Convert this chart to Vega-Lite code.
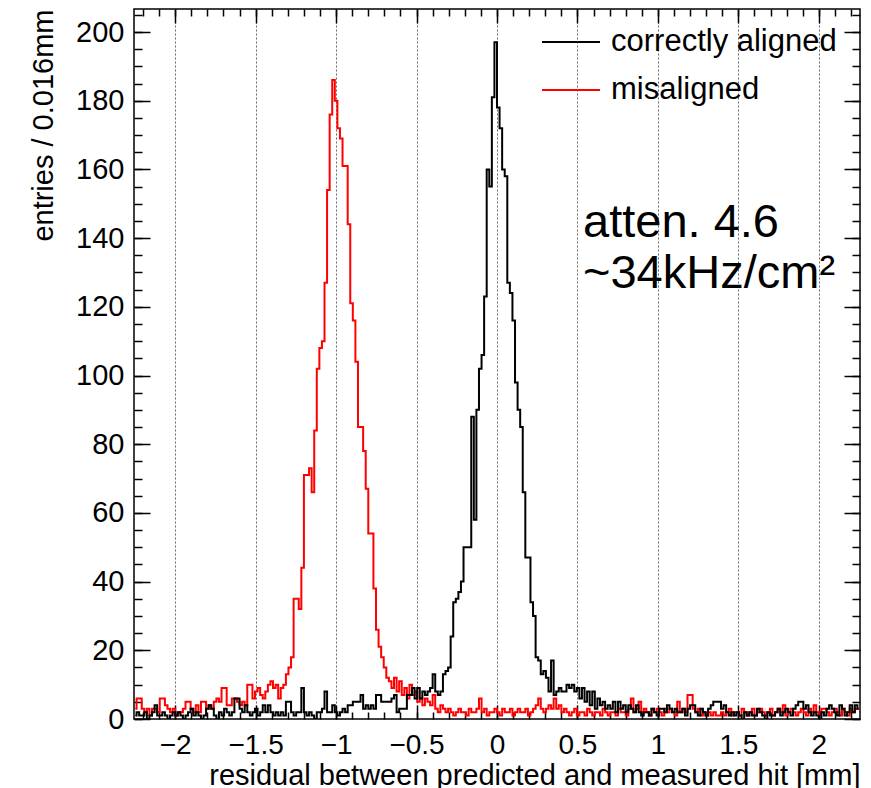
{
"$schema": "https://vega.github.io/schema/vega-lite/v6.json",
"width": 726,
"height": 710,
"autosize": {"type": "none"},
"padding": {"left": 134, "top": 9, "right": 11, "bottom": 69},
"background": "white",
"config": {
  "view": {"stroke": "black", "strokeWidth": 1.5},
  "font": "Liberation Sans",
  "axis": {"domain": false, "grid": false, "tickColor": "black", "tickWidth": 1.5, "labelColor": "black", "labelFont": "Liberation Sans", "titleFont": "Liberation Sans", "titleColor": "black", "titleFontWeight": "normal", "labelFlush": false, "labelOverlap": false}
},
"data": {"values": [
{"x":-2.248,"correctly aligned":1,"misaligned":3},{"x":-2.232,"correctly aligned":2,"misaligned":6},{"x":-2.216,"correctly aligned":1,"misaligned":6},{"x":-2.2,"correctly aligned":1,"misaligned":3},{"x":-2.184,"correctly aligned":2,"misaligned":2},{"x":-2.168,"correctly aligned":0,"misaligned":3},{"x":-2.152,"correctly aligned":1,"misaligned":1},{"x":-2.136,"correctly aligned":2,"misaligned":3},{"x":-2.12,"correctly aligned":4,"misaligned":3},{"x":-2.104,"correctly aligned":1,"misaligned":2},
{"x":-2.088,"correctly aligned":1,"misaligned":6},{"x":-2.072,"correctly aligned":2,"misaligned":6},{"x":-2.056,"correctly aligned":1,"misaligned":4},{"x":-2.04,"correctly aligned":0,"misaligned":3},{"x":-2.024,"correctly aligned":1,"misaligned":2},{"x":-2.008,"correctly aligned":2,"misaligned":3},{"x":-1.992,"correctly aligned":1,"misaligned":1},{"x":-1.976,"correctly aligned":2,"misaligned":2},{"x":-1.96,"correctly aligned":1,"misaligned":2},{"x":-1.944,"correctly aligned":0,"misaligned":3},
{"x":-1.928,"correctly aligned":1,"misaligned":5},{"x":-1.912,"correctly aligned":2,"misaligned":5},{"x":-1.896,"correctly aligned":3,"misaligned":3},{"x":-1.88,"correctly aligned":1,"misaligned":2},{"x":-1.864,"correctly aligned":2,"misaligned":4},{"x":-1.848,"correctly aligned":1,"misaligned":2},{"x":-1.832,"correctly aligned":0,"misaligned":5},{"x":-1.816,"correctly aligned":1,"misaligned":5},{"x":-1.8,"correctly aligned":3,"misaligned":3},{"x":-1.784,"correctly aligned":4,"misaligned":4},
{"x":-1.768,"correctly aligned":3,"misaligned":3},{"x":-1.752,"correctly aligned":1,"misaligned":5},{"x":-1.736,"correctly aligned":0,"misaligned":6},{"x":-1.72,"correctly aligned":2,"misaligned":5},{"x":-1.704,"correctly aligned":1,"misaligned":9},{"x":-1.688,"correctly aligned":3,"misaligned":9},{"x":-1.672,"correctly aligned":2,"misaligned":4},{"x":-1.656,"correctly aligned":1,"misaligned":4},{"x":-1.64,"correctly aligned":2,"misaligned":6},{"x":-1.624,"correctly aligned":6,"misaligned":6},
{"x":-1.608,"correctly aligned":6,"misaligned":5},{"x":-1.592,"correctly aligned":3,"misaligned":4},{"x":-1.576,"correctly aligned":2,"misaligned":5},{"x":-1.56,"correctly aligned":4,"misaligned":4},{"x":-1.544,"correctly aligned":2,"misaligned":10},{"x":-1.528,"correctly aligned":1,"misaligned":10},{"x":-1.512,"correctly aligned":2,"misaligned":6},{"x":-1.496,"correctly aligned":3,"misaligned":8},{"x":-1.48,"correctly aligned":1,"misaligned":9},{"x":-1.464,"correctly aligned":2,"misaligned":7},
{"x":-1.448,"correctly aligned":4,"misaligned":6},{"x":-1.432,"correctly aligned":2,"misaligned":8},{"x":-1.416,"correctly aligned":4,"misaligned":10},{"x":-1.4,"correctly aligned":2,"misaligned":11},{"x":-1.384,"correctly aligned":1,"misaligned":9},{"x":-1.368,"correctly aligned":2,"misaligned":10},{"x":-1.352,"correctly aligned":1,"misaligned":6},{"x":-1.336,"correctly aligned":2,"misaligned":9},{"x":-1.32,"correctly aligned":1,"misaligned":10},{"x":-1.304,"correctly aligned":5,"misaligned":13},
{"x":-1.288,"correctly aligned":5,"misaligned":15},{"x":-1.272,"correctly aligned":2,"misaligned":18},{"x":-1.256,"correctly aligned":1,"misaligned":35},{"x":-1.24,"correctly aligned":2,"misaligned":35},{"x":-1.224,"correctly aligned":2,"misaligned":32},{"x":-1.208,"correctly aligned":9,"misaligned":44},{"x":-1.192,"correctly aligned":2,"misaligned":71},{"x":-1.176,"correctly aligned":1,"misaligned":71},{"x":-1.16,"correctly aligned":2,"misaligned":73},{"x":-1.144,"correctly aligned":1,"misaligned":66},
{"x":-1.128,"correctly aligned":0,"misaligned":84},{"x":-1.112,"correctly aligned":2,"misaligned":102},{"x":-1.096,"correctly aligned":2,"misaligned":108},{"x":-1.08,"correctly aligned":3,"misaligned":110},{"x":-1.064,"correctly aligned":8,"misaligned":127},{"x":-1.048,"correctly aligned":2,"misaligned":154},{"x":-1.032,"correctly aligned":2,"misaligned":176},{"x":-1.016,"correctly aligned":4,"misaligned":186},{"x":-1,"correctly aligned":2,"misaligned":180},{"x":-0.984,"correctly aligned":1,"misaligned":172},
{"x":-0.968,"correctly aligned":2,"misaligned":169},{"x":-0.952,"correctly aligned":3,"misaligned":161},{"x":-0.936,"correctly aligned":2,"misaligned":161},{"x":-0.92,"correctly aligned":4,"misaligned":144},{"x":-0.904,"correctly aligned":4,"misaligned":121},{"x":-0.888,"correctly aligned":5,"misaligned":116},{"x":-0.872,"correctly aligned":5,"misaligned":104},{"x":-0.856,"correctly aligned":5,"misaligned":85},{"x":-0.84,"correctly aligned":7,"misaligned":85},{"x":-0.824,"correctly aligned":3,"misaligned":78},
{"x":-0.808,"correctly aligned":4,"misaligned":67},{"x":-0.792,"correctly aligned":3,"misaligned":54},{"x":-0.776,"correctly aligned":4,"misaligned":54},{"x":-0.76,"correctly aligned":3,"misaligned":38},{"x":-0.744,"correctly aligned":7,"misaligned":26},{"x":-0.728,"correctly aligned":7,"misaligned":21},{"x":-0.712,"correctly aligned":5,"misaligned":18},{"x":-0.696,"correctly aligned":5,"misaligned":15},{"x":-0.68,"correctly aligned":5,"misaligned":12},{"x":-0.664,"correctly aligned":5,"misaligned":11},
{"x":-0.648,"correctly aligned":6,"misaligned":9},{"x":-0.632,"correctly aligned":7,"misaligned":12},{"x":-0.616,"correctly aligned":2,"misaligned":8},{"x":-0.6,"correctly aligned":3,"misaligned":11},{"x":-0.584,"correctly aligned":3,"misaligned":7},{"x":-0.568,"correctly aligned":3,"misaligned":9},{"x":-0.552,"correctly aligned":7,"misaligned":6},{"x":-0.536,"correctly aligned":7,"misaligned":10},{"x":-0.52,"correctly aligned":9,"misaligned":7},{"x":-0.504,"correctly aligned":6,"misaligned":8},
{"x":-0.488,"correctly aligned":9,"misaligned":5},{"x":-0.472,"correctly aligned":6,"misaligned":6},{"x":-0.456,"correctly aligned":8,"misaligned":4},{"x":-0.44,"correctly aligned":7,"misaligned":6},{"x":-0.424,"correctly aligned":8,"misaligned":5},{"x":-0.408,"correctly aligned":9,"misaligned":4},{"x":-0.392,"correctly aligned":13,"misaligned":7},{"x":-0.376,"correctly aligned":8,"misaligned":3},{"x":-0.36,"correctly aligned":7,"misaligned":2},{"x":-0.344,"correctly aligned":8,"misaligned":4},
{"x":-0.328,"correctly aligned":13,"misaligned":3},{"x":-0.312,"correctly aligned":14,"misaligned":2},{"x":-0.296,"correctly aligned":15,"misaligned":3},{"x":-0.28,"correctly aligned":24,"misaligned":2},{"x":-0.264,"correctly aligned":34,"misaligned":1},{"x":-0.248,"correctly aligned":35,"misaligned":2},{"x":-0.232,"correctly aligned":37,"misaligned":3},{"x":-0.216,"correctly aligned":40,"misaligned":2},{"x":-0.2,"correctly aligned":50,"misaligned":2},{"x":-0.184,"correctly aligned":50,"misaligned":1},
{"x":-0.168,"correctly aligned":50,"misaligned":3},{"x":-0.152,"correctly aligned":88,"misaligned":2},{"x":-0.136,"correctly aligned":58,"misaligned":2},{"x":-0.12,"correctly aligned":90,"misaligned":3},{"x":-0.104,"correctly aligned":102,"misaligned":6},{"x":-0.088,"correctly aligned":106,"misaligned":2},{"x":-0.072,"correctly aligned":123,"misaligned":3},{"x":-0.056,"correctly aligned":160,"misaligned":1},{"x":-0.04,"correctly aligned":155,"misaligned":2},{"x":-0.024,"correctly aligned":181,"misaligned":2},
{"x":-0.008,"correctly aligned":197,"misaligned":3},{"x":0.008,"correctly aligned":178,"misaligned":2},{"x":0.024,"correctly aligned":172,"misaligned":1},{"x":0.04,"correctly aligned":160,"misaligned":3},{"x":0.056,"correctly aligned":158,"misaligned":2},{"x":0.072,"correctly aligned":127,"misaligned":2},{"x":0.088,"correctly aligned":124,"misaligned":3},{"x":0.104,"correctly aligned":116,"misaligned":1},{"x":0.12,"correctly aligned":98,"misaligned":2},{"x":0.136,"correctly aligned":90,"misaligned":3},
{"x":0.152,"correctly aligned":85,"misaligned":2},{"x":0.168,"correctly aligned":66,"misaligned":2},{"x":0.184,"correctly aligned":47,"misaligned":3},{"x":0.2,"correctly aligned":47,"misaligned":1},{"x":0.216,"correctly aligned":34,"misaligned":2},{"x":0.232,"correctly aligned":30,"misaligned":3},{"x":0.248,"correctly aligned":18,"misaligned":4},{"x":0.264,"correctly aligned":17,"misaligned":6},{"x":0.28,"correctly aligned":13,"misaligned":3},{"x":0.296,"correctly aligned":14,"misaligned":2},
{"x":0.312,"correctly aligned":12,"misaligned":3},{"x":0.328,"correctly aligned":8,"misaligned":4},{"x":0.344,"correctly aligned":17,"misaligned":3},{"x":0.36,"correctly aligned":7,"misaligned":6},{"x":0.376,"correctly aligned":8,"misaligned":3},{"x":0.392,"correctly aligned":9,"misaligned":4},{"x":0.408,"correctly aligned":8,"misaligned":2},{"x":0.424,"correctly aligned":8,"misaligned":3},{"x":0.44,"correctly aligned":10,"misaligned":2},{"x":0.456,"correctly aligned":9,"misaligned":1},
{"x":0.472,"correctly aligned":10,"misaligned":2},{"x":0.488,"correctly aligned":8,"misaligned":3},{"x":0.504,"correctly aligned":9,"misaligned":1},{"x":0.52,"correctly aligned":6,"misaligned":2},{"x":0.536,"correctly aligned":9,"misaligned":2},{"x":0.552,"correctly aligned":5,"misaligned":1},{"x":0.568,"correctly aligned":8,"misaligned":3},{"x":0.584,"correctly aligned":4,"misaligned":2},{"x":0.6,"correctly aligned":8,"misaligned":1},{"x":0.616,"correctly aligned":3,"misaligned":2},
{"x":0.632,"correctly aligned":6,"misaligned":2},{"x":0.648,"correctly aligned":4,"misaligned":1},{"x":0.664,"correctly aligned":5,"misaligned":3},{"x":0.68,"correctly aligned":3,"misaligned":2},{"x":0.696,"correctly aligned":4,"misaligned":1},{"x":0.712,"correctly aligned":3,"misaligned":2},{"x":0.728,"correctly aligned":5,"misaligned":2},{"x":0.744,"correctly aligned":2,"misaligned":1},{"x":0.76,"correctly aligned":5,"misaligned":3},{"x":0.776,"correctly aligned":3,"misaligned":2},
{"x":0.792,"correctly aligned":4,"misaligned":2},{"x":0.808,"correctly aligned":2,"misaligned":1},{"x":0.824,"correctly aligned":4,"misaligned":3},{"x":0.84,"correctly aligned":3,"misaligned":6},{"x":0.856,"correctly aligned":2,"misaligned":2},{"x":0.872,"correctly aligned":4,"misaligned":3},{"x":0.888,"correctly aligned":2,"misaligned":5},{"x":0.904,"correctly aligned":1,"misaligned":2},{"x":0.92,"correctly aligned":2,"misaligned":3},{"x":0.936,"correctly aligned":2,"misaligned":2},
{"x":0.952,"correctly aligned":1,"misaligned":1},{"x":0.968,"correctly aligned":3,"misaligned":3},{"x":0.984,"correctly aligned":2,"misaligned":2},{"x":1,"correctly aligned":1,"misaligned":3},{"x":1.016,"correctly aligned":3,"misaligned":2},{"x":1.032,"correctly aligned":3,"misaligned":1},{"x":1.048,"correctly aligned":2,"misaligned":3},{"x":1.064,"correctly aligned":4,"misaligned":2},{"x":1.08,"correctly aligned":3,"misaligned":3},{"x":1.096,"correctly aligned":2,"misaligned":2},
{"x":1.112,"correctly aligned":3,"misaligned":1},{"x":1.128,"correctly aligned":2,"misaligned":5},{"x":1.144,"correctly aligned":2,"misaligned":2},{"x":1.16,"correctly aligned":3,"misaligned":3},{"x":1.176,"correctly aligned":1,"misaligned":2},{"x":1.192,"correctly aligned":3,"misaligned":7},{"x":1.208,"correctly aligned":4,"misaligned":7},{"x":1.224,"correctly aligned":4,"misaligned":3},{"x":1.24,"correctly aligned":2,"misaligned":2},{"x":1.256,"correctly aligned":1,"misaligned":3},
{"x":1.272,"correctly aligned":3,"misaligned":1},{"x":1.288,"correctly aligned":2,"misaligned":2},{"x":1.304,"correctly aligned":1,"misaligned":1},{"x":1.32,"correctly aligned":3,"misaligned":2},{"x":1.336,"correctly aligned":4,"misaligned":1},{"x":1.352,"correctly aligned":5,"misaligned":2},{"x":1.368,"correctly aligned":5,"misaligned":1},{"x":1.384,"correctly aligned":5,"misaligned":1},{"x":1.4,"correctly aligned":3,"misaligned":2},{"x":1.416,"correctly aligned":4,"misaligned":1},
{"x":1.432,"correctly aligned":2,"misaligned":2},{"x":1.448,"correctly aligned":1,"misaligned":3},{"x":1.464,"correctly aligned":2,"misaligned":1},{"x":1.48,"correctly aligned":1,"misaligned":2},{"x":1.496,"correctly aligned":2,"misaligned":2},{"x":1.512,"correctly aligned":1,"misaligned":1},{"x":1.528,"correctly aligned":0,"misaligned":3},{"x":1.544,"correctly aligned":2,"misaligned":2},{"x":1.56,"correctly aligned":1,"misaligned":1},{"x":1.576,"correctly aligned":2,"misaligned":2},
{"x":1.592,"correctly aligned":1,"misaligned":3},{"x":1.608,"correctly aligned":1,"misaligned":1},{"x":1.624,"correctly aligned":3,"misaligned":2},{"x":1.64,"correctly aligned":2,"misaligned":3},{"x":1.656,"correctly aligned":1,"misaligned":2},{"x":1.672,"correctly aligned":0,"misaligned":1},{"x":1.688,"correctly aligned":2,"misaligned":2},{"x":1.704,"correctly aligned":1,"misaligned":3},{"x":1.72,"correctly aligned":1,"misaligned":1},{"x":1.736,"correctly aligned":2,"misaligned":2},
{"x":1.752,"correctly aligned":3,"misaligned":3},{"x":1.768,"correctly aligned":1,"misaligned":2},{"x":1.784,"correctly aligned":2,"misaligned":4},{"x":1.8,"correctly aligned":3,"misaligned":1},{"x":1.816,"correctly aligned":2,"misaligned":2},{"x":1.832,"correctly aligned":1,"misaligned":3},{"x":1.848,"correctly aligned":3,"misaligned":2},{"x":1.864,"correctly aligned":4,"misaligned":1},{"x":1.88,"correctly aligned":5,"misaligned":2},{"x":1.896,"correctly aligned":5,"misaligned":3},
{"x":1.912,"correctly aligned":3,"misaligned":2},{"x":1.928,"correctly aligned":4,"misaligned":1},{"x":1.944,"correctly aligned":2,"misaligned":3},{"x":1.96,"correctly aligned":1,"misaligned":2},{"x":1.976,"correctly aligned":2,"misaligned":4},{"x":1.992,"correctly aligned":1,"misaligned":2},{"x":2.008,"correctly aligned":0,"misaligned":1},{"x":2.024,"correctly aligned":2,"misaligned":3},{"x":2.04,"correctly aligned":1,"misaligned":3},{"x":2.056,"correctly aligned":3,"misaligned":2},
{"x":2.072,"correctly aligned":4,"misaligned":1},{"x":2.088,"correctly aligned":3,"misaligned":2},{"x":2.104,"correctly aligned":2,"misaligned":3},{"x":2.12,"correctly aligned":1,"misaligned":2},{"x":2.136,"correctly aligned":4,"misaligned":1},{"x":2.152,"correctly aligned":3,"misaligned":3},{"x":2.168,"correctly aligned":1,"misaligned":2},{"x":2.184,"correctly aligned":2,"misaligned":1},{"x":2.2,"correctly aligned":4,"misaligned":3},{"x":2.216,"correctly aligned":2,"misaligned":2},
{"x":2.232,"correctly aligned":4,"misaligned":3},{"x":2.248,"correctly aligned":3,"misaligned":3}
]},
"transform": [{"fold": ["correctly aligned", "misaligned"], "as": ["series", "count"]}],
"layer": [
  {
    "transform": [{"filter": "datum.series == 'misaligned'"}],
    "mark": {"type": "line", "interpolate": "step", "strokeWidth": 2, "clip": true},
    "encoding": {
      "x": {"field": "x", "type": "quantitative",
        "scale": {"domain": [-2.256, 2.256], "nice": false, "zero": false},
        "axis": {"orient": "bottom", "values": [-2, -1.5, -1, -0.5, 0, 0.5, 1, 1.5, 2], "format": "~g", "tickSize": -14, "labelPadding": 26, "labelFontSize": 28,
          "grid": true, "gridColor": "#666666", "gridDash": [2, 2], "gridWidth": 1,
          "title": "residual between predicted and measured hit [mm]", "titleFontSize": 29, "titleAnchor": "end", "titleAlign": "right", "titleX": 726, "titleY": 65, "titleBaseline": "alphabetic"}},
      "y": {"field": "count", "type": "quantitative",
        "scale": {"domain": [0, 206.7], "nice": false, "zero": false},
        "axis": {"orient": "left", "values": [0, 20, 40, 60, 80, 100, 120, 140, 160, 180, 200], "tickSize": -16, "labelPadding": 26, "labelFontSize": 29,
          "title": "entries / 0.016mm", "titleFontSize": 29, "titleAngle": -90, "titleAnchor": "end", "titleAlign": "right", "titleX": -82, "titleY": 0, "titleBaseline": "alphabetic"}},
      "color": {"field": "series", "type": "nominal",
        "scale": {"domain": ["correctly aligned", "misaligned"], "range": ["#000000", "#ff0000"]},
        "legend": {"orient": "none", "legendX": 407, "legendY": 3, "title": null, "symbolType": "stroke", "symbolSize": 3364, "symbolStrokeWidth": 2, "labelFontSize": 31, "labelFont": "Liberation Sans", "labelColor": "black", "labelOffset": 10, "rowPadding": 3, "padding": 0, "labelLimit": 500}}
    }
  },
  {
    "transform": [{"filter": "datum.series == 'correctly aligned'"}],
    "mark": {"type": "line", "interpolate": "step", "strokeWidth": 2, "clip": true},
    "encoding": {
      "x": {"field": "x", "type": "quantitative",
        "axis": {"orient": "bottom", "values": [-2.2,-2.1,-2,-1.9,-1.8,-1.7,-1.6,-1.5,-1.4,-1.3,-1.2,-1.1,-1,-0.9,-0.8,-0.7,-0.6,-0.5,-0.4,-0.3,-0.2,-0.1,0,0.1,0.2,0.3,0.4,0.5,0.6,0.7,0.8,0.9,1,1.1,1.2,1.3,1.4,1.5,1.6,1.7,1.8,1.9,2,2.1,2.2], "tickSize": -7, "labels": false, "title": null}},
      "y": {"field": "count", "type": "quantitative",
        "axis": {"orient": "left", "values": [0,5,10,15,20,25,30,35,40,45,50,55,60,65,70,75,80,85,90,95,100,105,110,115,120,125,130,135,140,145,150,155,160,165,170,175,180,185,190,195,200,205], "tickSize": -8, "labels": false, "title": null}},
      "color": {"field": "series", "type": "nominal"}
    }
  },
  {
    "transform": [{"filter": "datum.series == 'correctly aligned'"}],
    "mark": {"type": "point", "opacity": 0},
    "encoding": {
      "x": {"field": "x", "type": "quantitative",
        "axis": {"orient": "top", "values": [-2, -1.5, -1, -0.5, 0, 0.5, 1, 1.5, 2], "tickSize": -14, "labels": false, "title": null}},
      "y": {"field": "count", "type": "quantitative",
        "axis": {"orient": "right", "values": [0, 20, 40, 60, 80, 100, 120, 140, 160, 180, 200], "tickSize": -16, "labels": false, "title": null}}
    }
  },
  {
    "transform": [{"filter": "datum.series == 'correctly aligned'"}],
    "mark": {"type": "point", "opacity": 0},
    "encoding": {
      "x": {"field": "x", "type": "quantitative",
        "axis": {"orient": "top", "values": [-2.2,-2.1,-2,-1.9,-1.8,-1.7,-1.6,-1.5,-1.4,-1.3,-1.2,-1.1,-1,-0.9,-0.8,-0.7,-0.6,-0.5,-0.4,-0.3,-0.2,-0.1,0,0.1,0.2,0.3,0.4,0.5,0.6,0.7,0.8,0.9,1,1.1,1.2,1.3,1.4,1.5,1.6,1.7,1.8,1.9,2,2.1,2.2], "tickSize": -7, "labels": false, "title": null}},
      "y": {"field": "count", "type": "quantitative",
        "axis": {"orient": "right", "values": [0,5,10,15,20,25,30,35,40,45,50,55,60,65,70,75,80,85,90,95,100,105,110,115,120,125,130,135,140,145,150,155,160,165,170,175,180,185,190,195,200,205], "tickSize": -8, "labels": false, "title": null}}
    }
  },
  {
    "data": {"values": [{"label": "atten. 4.6 / ~34kHz/cm²"}]},
    "mark": {"type": "text", "text": ["atten. 4.6", "~34kHz/cm²"], "font": "Liberation Sans", "fontSize": 47, "align": "left", "baseline": "alphabetic", "lineHeight": 51, "color": "black"},
    "encoding": {
      "x": {"datum": 0.5345, "type": "quantitative", "axis": null},
      "y": {"datum": 140.4, "type": "quantitative", "axis": null}
    }
  }
],
"resolve": {"axis": {"x": "independent", "y": "independent"}}
}
